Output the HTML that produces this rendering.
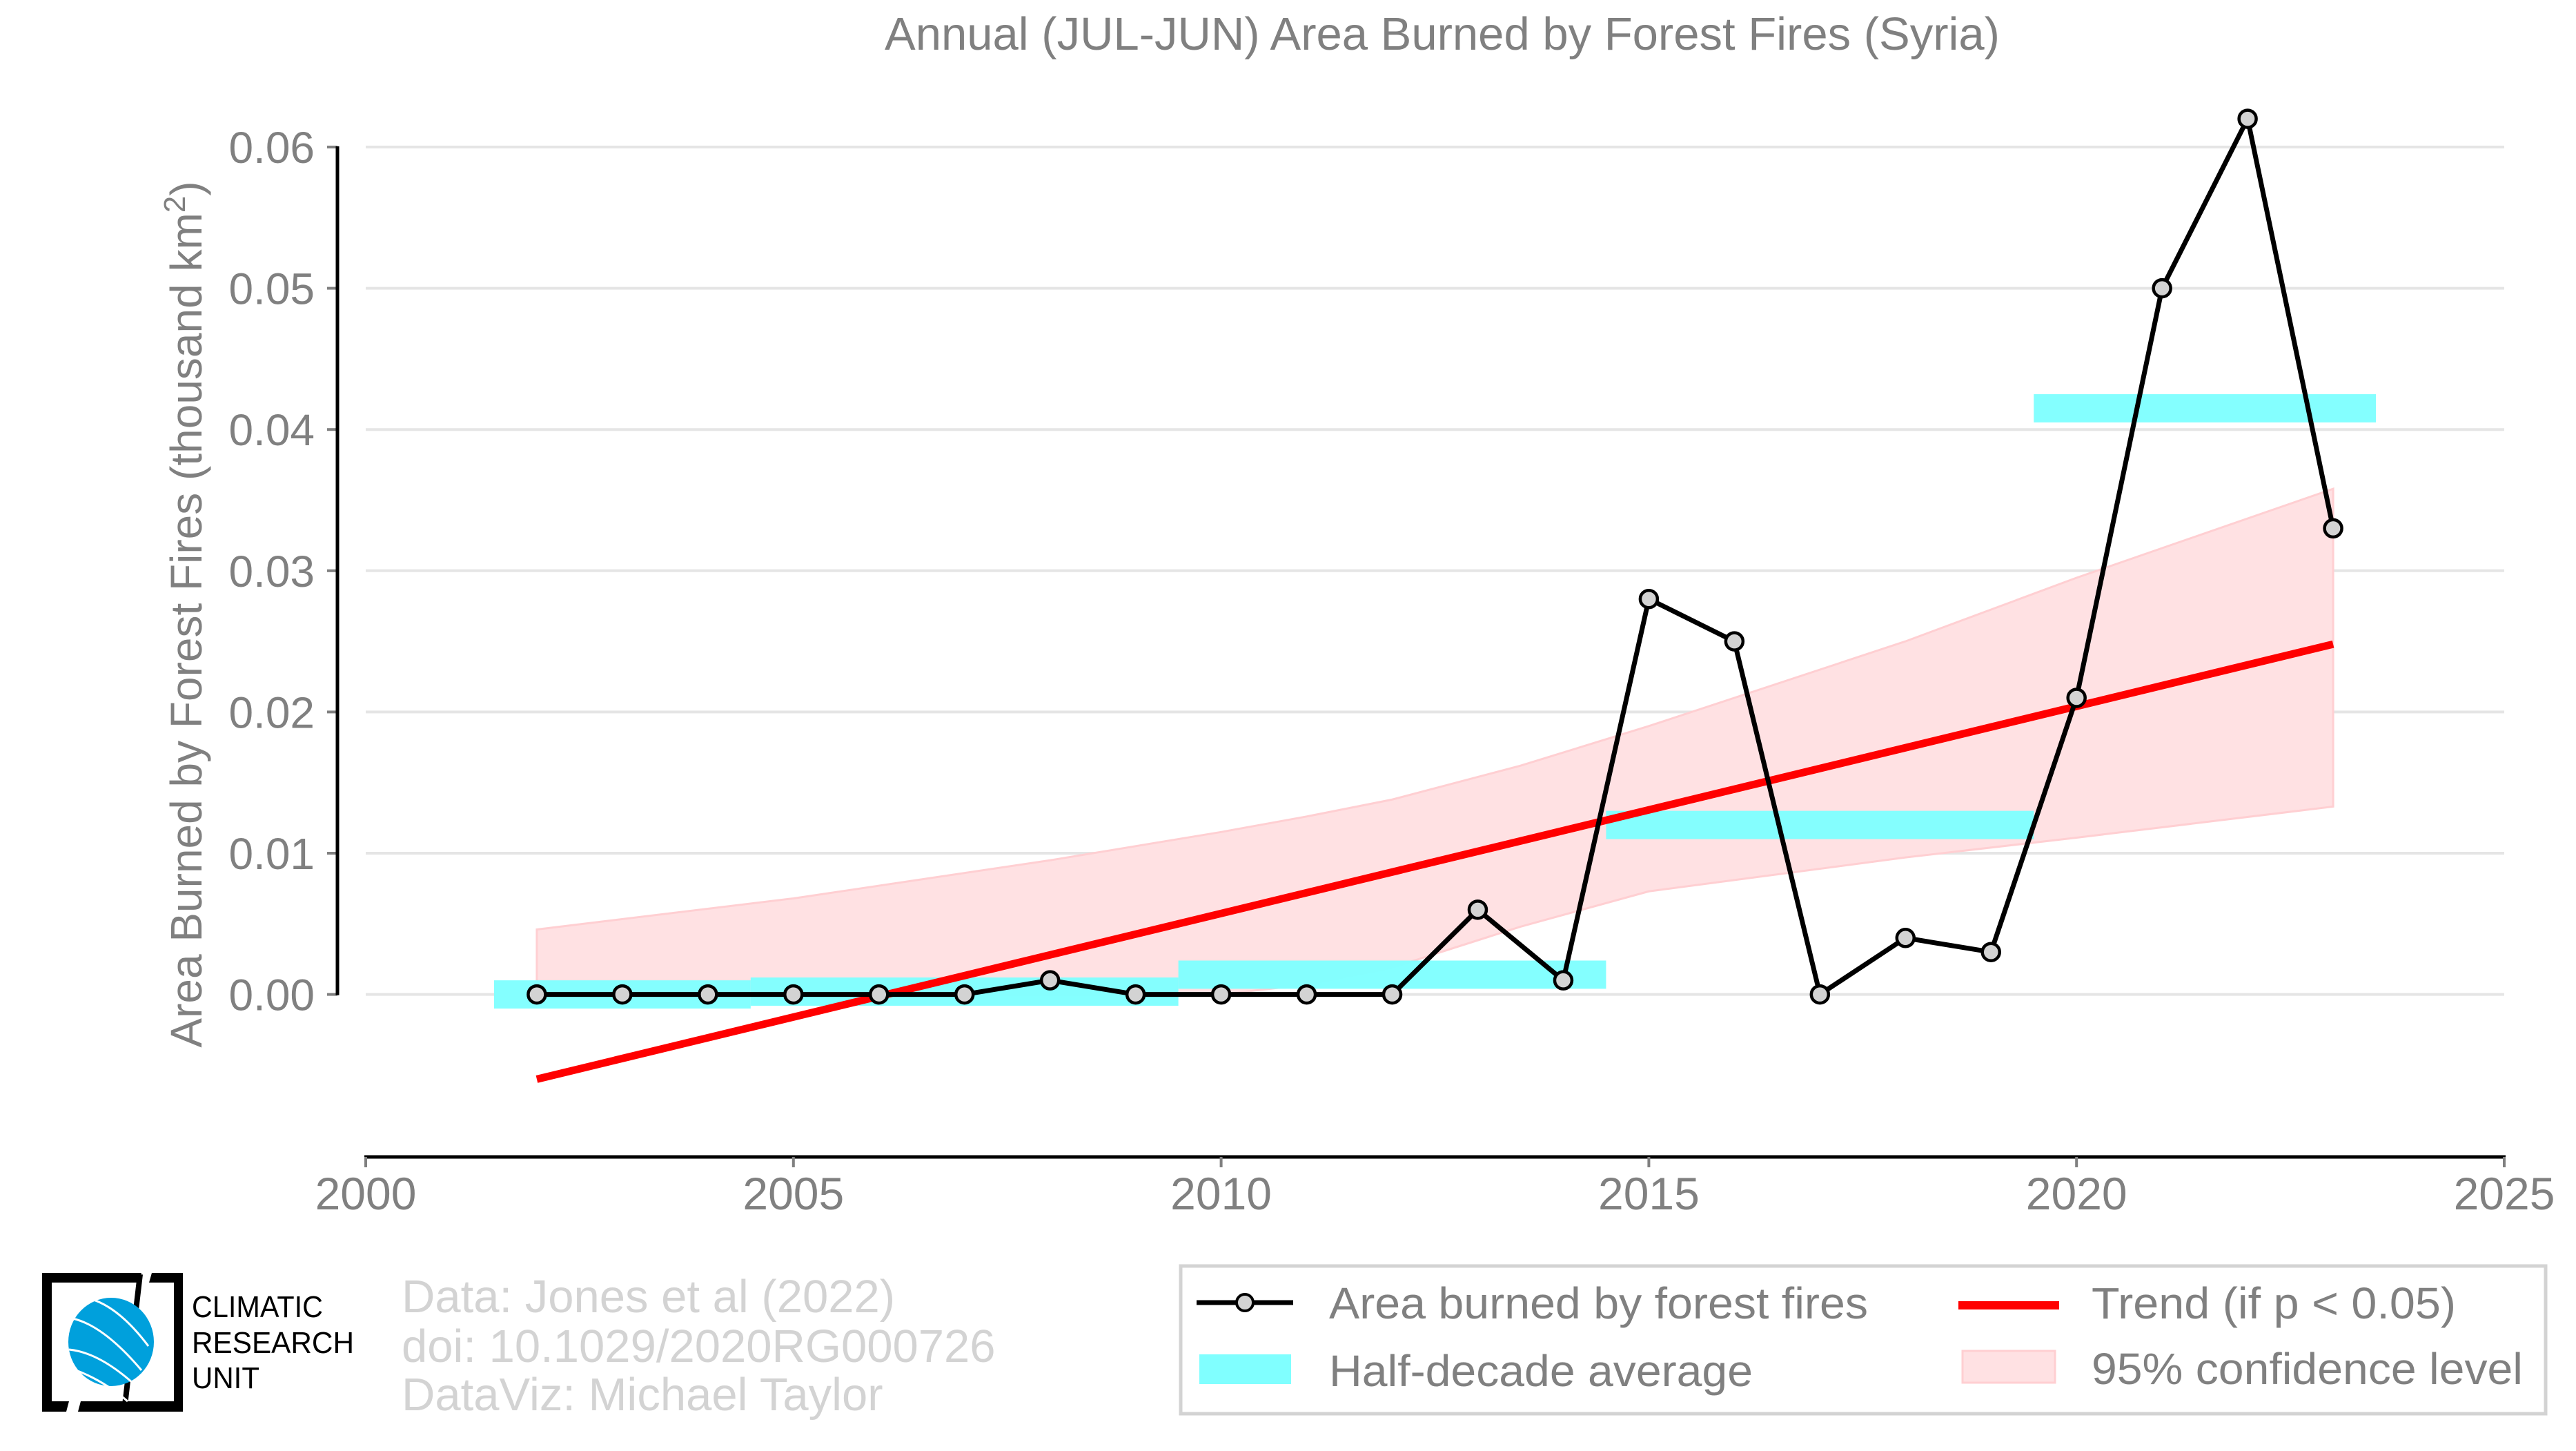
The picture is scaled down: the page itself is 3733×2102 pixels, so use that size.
<!DOCTYPE html>
<html><head><meta charset="utf-8"><style>
html,body{margin:0;padding:0;background:#fff}
svg{display:block}
text{font-family:"Liberation Sans",sans-serif}
</style></head><body>
<svg id="chart" width="3733" height="2102" viewBox="0 0 3733 2102" xmlns="http://www.w3.org/2000/svg">
<defs><clipPath id="plotclip"><rect x="530" y="100" width="3099" height="1575"/></clipPath></defs>
<text x="2090" y="72" font-size="67" fill="#808080" text-anchor="middle">Annual (JUL-JUN) Area Burned by Forest Fires (Syria)</text>
<g id="grid"></g>
<g id="yaxis"></g>
<g id="xaxis"></g>
<text transform="translate(292,890) rotate(-90)" font-size="64" fill="#808080" text-anchor="middle">Area Burned by Forest Fires (thousand km<tspan dy="-24" font-size="44">2</tspan><tspan dy="24">)</tspan></text>
<g id="marks" clip-path="url(#plotclip)"></g>

<g>
<path d="M61 1844 H205 L200 1858 H75 V2030 H100 L96 2045 H61 Z" fill="#000"/>
<path d="M220 1844 H265 V2045 H113 L117 2030 H252 V1858 H216 Z" fill="#000"/>
<path d="M203 1846 L180 2044" stroke="#000" stroke-width="8"/>
<ellipse cx="161" cy="1944" rx="62" ry="64" fill="#00a0dc"/>
<path d="M105 1910 Q150 1920 205 1985 M100 1955 Q150 1960 210 2020 M110 1985 Q150 2000 185 2030 M125 1880 Q170 1890 215 1950" stroke="#fff" stroke-width="3" fill="none"/>
<text x="278" y="1908" font-size="44" fill="#000" textLength="190" lengthAdjust="spacingAndGlyphs">CLIMATIC</text>
<text x="278" y="1960" font-size="44" fill="#000" textLength="235" lengthAdjust="spacingAndGlyphs">RESEARCH</text>
<text x="278" y="2011" font-size="44" fill="#000" textLength="98" lengthAdjust="spacingAndGlyphs">UNIT</text>
</g>
<g fill="#d3d3d3" font-size="67">
<text x="582" y="1901">Data: Jones et al (2022)</text>
<text x="582" y="1973">doi: 10.1029/2020RG000726</text>
<text x="582" y="2043">DataViz: Michael Taylor</text>
</g>

<g>
<rect x="1711" y="1834" width="1978" height="214" fill="#fff" stroke="#d3d3d3" stroke-width="5"/>
<g>
<line x1="1734" y1="1887" x2="1874" y2="1887" stroke="#000" stroke-width="7"/>
<circle cx="1804" cy="1887" r="12" fill="#d3d3d3" stroke="#000" stroke-width="4"/>
<text x="1926" y="1910" font-size="64" fill="#808080" textLength="781" lengthAdjust="spacingAndGlyphs">Area burned by forest fires</text>
</g>
<g>
<rect x="1738" y="1962" width="133" height="43" fill="#80ffff"/>
<text x="1926" y="2008" font-size="64" fill="#808080" textLength="614" lengthAdjust="spacingAndGlyphs">Half-decade average</text>
</g>
<g>
<line x1="2838" y1="1891" x2="2984" y2="1891" stroke="#ff0000" stroke-width="12"/>
<text x="3031" y="1910" font-size="64" fill="#808080" textLength="528" lengthAdjust="spacingAndGlyphs">Trend (if p &lt; 0.05)</text>
</g>
<g>
<rect x="2844" y="1957" width="134" height="46" fill="#ffe1e3" stroke="#ffcfd2" stroke-width="3"/>
<text x="3031" y="2005" font-size="64" fill="#808080" textLength="625" lengthAdjust="spacingAndGlyphs">95% confidence level</text>
</g>
</g>
</svg>
<script>
const years = [2002,2003,2004,2005,2006,2007,2008,2009,2010,2011,2012,2013,2014,2015,2016,2017,2018,2019,2020,2021,2022,2023];
const area = [0,0,0,0,0,0,0.001,0,0,0,0,0.006,0.001,0.028,0.025,0,0.004,0.003,0.021,0.050,0.062,0.033];
const hdStart = [2001.5,2004.5,2009.5,2014.5,2019.5];
const hdEnd = [2004.5,2009.5,2014.5,2019.5,2023.5];
const hdValue = [0.0,0.0002,0.0014,0.012,0.0415];
const trendYears = [2002,2023];
const trendValues = [-0.006,0.0248];
const ciYears = [2002,2005,2008,2010,2011,2012,2013.5,2015,2018,2020,2023];
const ciUpper = [0.0046,0.0068,0.0095,0.0115,0.0126,0.0138,0.0162,0.019,0.025,0.0295,0.0358];
const ciLower = [0,0,0,0,0.0007,0.0019,0.0048,0.0073,0.0097,0.0111,0.0133];
const xTicks = [2000,2005,2010,2015,2020,2025];
const yTicks = [0,0.01,0.02,0.03,0.04,0.05,0.06];
const yTickLabels = ["0.00","0.01","0.02","0.03","0.04","0.05","0.06"];

const NS = "http://www.w3.org/2000/svg";
const X = v => 530 + (v - 2000) * 123.96;
const Y = v => 1440.6 - v * 20460;
function mk(tag, attrs, parent){const e=document.createElementNS(NS,tag);for(const k in attrs)e.setAttribute(k,attrs[k]);parent.appendChild(e);return e;}
const grid=document.getElementById('grid'),ya=document.getElementById('yaxis'),xa=document.getElementById('xaxis'),marks=document.getElementById('marks');

yTicks.forEach((t,i)=>{
  const g=mk('line',{x1:530,x2:3629,y1:Y(t),y2:Y(t),stroke:'#e5e5e5','stroke-width':4},grid);
  
  
  const tk=mk('line',{x1:474,x2:489,y1:Y(t),y2:Y(t),stroke:'#808080','stroke-width':4},ya);
  
  
  const lb=mk('text',{x:456,y:Y(t)+23,'font-size':64,fill:'#808080','text-anchor':'end'},ya);
  lb.textContent=yTickLabels[i];
  
  
});
const sp=mk('line',{x1:489,x2:489,y1:Y(0.06)-1,y2:Y(0)+1,stroke:'#000','stroke-width':5},ya);


const xs=mk('line',{x1:X(2000)-2,x2:X(2025)+2,y1:1676,y2:1676,stroke:'#000','stroke-width':5},xa);


xTicks.forEach(t=>{
  const tk=mk('line',{x1:X(t),x2:X(t),y1:1676,y2:1691,stroke:'#808080','stroke-width':4},xa);
  
  
  const lb=mk('text',{x:X(t),y:1752,'font-size':66,fill:'#808080','text-anchor':'middle'},xa);
  lb.textContent=String(t);
  
  
});

let d='';
ciYears.forEach((yr,i)=>{d+=(i?'L':'M')+X(yr)+' '+Y(ciUpper[i])+' ';});
for(let i=ciYears.length-1;i>=0;i--){d+='L'+X(ciYears[i])+' '+Y(ciLower[i])+' ';}
const band=mk('path',{d:d+'Z',fill:'#ffe1e3',stroke:'#ffcfd2','stroke-width':3},marks);



hdValue.forEach((v,i)=>{
  const r=mk('rect',{x:X(hdStart[i]),y:Y(v+0.001),width:X(hdEnd[i])-X(hdStart[i]),height:Y(v-0.001)-Y(v+0.001),fill:'#80ffff','fill-opacity':0.97},marks);
  
  
});

const tr=mk('line',{x1:X(trendYears[0]),y1:Y(trendValues[0]),x2:X(trendYears[1]),y2:Y(trendValues[1]),stroke:'#ff0000','stroke-width':11},marks);



const pts=years.map((yr,i)=>X(yr)+','+Y(area[i])).join(' ');
const pl=mk('polyline',{points:pts,fill:'none',stroke:'#000','stroke-width':7,'stroke-linejoin':'round'},marks);


years.forEach((yr,i)=>{
  const c=mk('circle',{cx:X(yr),cy:Y(area[i]),r:12.5,fill:'#d3d3d3',stroke:'#000','stroke-width':4.5},marks);
  
  
});
</script>
</body></html>
